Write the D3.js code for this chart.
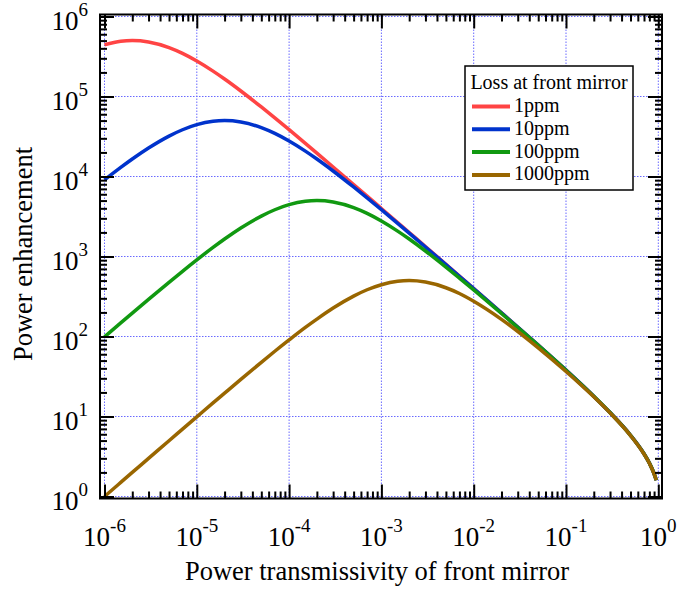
<!DOCTYPE html>
<html>
<head>
<meta charset="utf-8">
<script src="https://cdn.jsdelivr.net/npm/d3@7"></script>
<style>
  html, body { margin: 0; padding: 0; background: #fff; }
  svg { display: block; font-family: "Liberation Serif", "Times New Roman", serif; }
</style>
</head>
<body>
<svg id="chart" width="677" height="593"></svg>
<script>
// Front-mirror transmissivity samples (log-spaced)
const transmissivity = [1e-6, 1.5e-6, 2e-6, 3e-6, 5e-6, 7e-6, 1e-5, 1.5e-5, 2e-5, 3e-5, 5e-5, 7e-5,
  1e-4, 1.5e-4, 2e-4, 3e-4, 5e-4, 7e-4, 1e-3, 1.5e-3, 2e-3, 3e-3, 5e-3, 7e-3,
  1e-2, 2e-2, 5e-2, 0.1, 0.2, 0.3, 0.5, 0.7, 0.8, 0.9, 0.95];

// Power enhancement for each loss value
const loss1ppm = [444400, 489800, 500000, 480000, 408200, 345700, 277800, 207600, 165300, 117200, 73960, 54010,
  38450, 25970, 19610, 13160, 7936, 5682, 3984, 2660, 1996, 1332, 798, 569,
  398, 198, 78.0, 38.0, 17.9, 11.2, 5.83, 3.42, 2.62, 1.93, 1.6];
const loss10ppm = [9070, 12980, 16530, 22680, 32000, 38410, 44440, 48980, 50000, 48000, 40820, 34570,
  27780, 20760, 16530, 11720, 7396, 5401, 3845, 2597, 1961, 1316, 792, 566,
  396, 198, 78.0, 38.0, 17.9, 11.2, 5.83, 3.42, 2.62, 1.93, 1.6];
const loss100ppm = [99.0, 147.8, 196.1, 291.2, 475.9, 653.5, 907.0, 1298, 1653, 2268, 3200, 3841,
  4444, 4898, 5000, 4800, 4082, 3457, 2778, 2076, 1653, 1172, 738, 538,
  383, 194, 77.4, 37.8, 17.9, 11.2, 5.82, 3.42, 2.62, 1.93, 1.6];
const loss1000ppm = [1.0, 1.5, 2.0, 2.99, 4.98, 6.95, 9.90, 14.8, 19.6, 29.1, 47.6, 65.4,
  90.7, 130, 165, 227, 320, 384, 444, 490, 500, 479, 407, 345,
  276, 164, 72.1, 36.5, 17.6, 11.1, 5.78, 3.40, 2.61, 1.92, 1.6];

const seriesNames = ["1ppm", "10ppm", "100ppm", "1000ppm"];
const seriesValues = [loss1ppm, loss10ppm, loss100ppm, loss1000ppm];
const seriesColors = ["#ff4444", "#0033cc", "#119911", "#996600"];

const xExponents = [-6, -5, -4, -3, -2, -1, 0];
const yExponents = [0, 1, 2, 3, 4, 5, 6];

const legendTitle = "Loss at front mirror";
const xTitle = "Power transmissivity of front mirror";
const yTitle = "Power enhancement";

// Layout
const frame = { left: 100, right: 662, top: 14.5, bottom: 498.5 };
const svg = d3.select("#chart");

const x = d3.scaleLog().domain([1e-6, 1]).range([104.5, 658.3]);
const y = d3.scaleLog().domain([1, 1e6]).range([496.5, 16.5]);

const majorX = xExponents.map(e => Math.pow(10, e));
const majorY = yExponents.map(e => Math.pow(10, e));
const minorX = [];
for (let e = -6; e < 0; e++) for (let m = 2; m <= 9; m++) minorX.push(m * Math.pow(10, e));
const minorY = [];
for (let e = 0; e < 6; e++) for (let m = 2; m <= 9; m++) minorY.push(m * Math.pow(10, e));

// Grid
const grid = svg.append("g").attr("class", "grid")
  .attr("stroke", "#6a6aff").attr("stroke-width", 1).attr("stroke-dasharray", "1.5,1.5");
grid.selectAll("line.gx").data(majorX).join("line").attr("class", "gx")
  .attr("x1", d => x(d)).attr("x2", d => x(d))
  .attr("y1", frame.top).attr("y2", frame.bottom);
grid.selectAll("line.gy").data(majorY).join("line").attr("class", "gy")
  .attr("y1", d => y(d)).attr("y2", d => y(d))
  .attr("x1", frame.left).attr("x2", frame.right);

// Curves
const line = d3.line()
  .x((d, i) => x(transmissivity[i]))
  .y(d => y(d))
  .curve(d3.curveMonotoneX);

svg.append("g").attr("class", "curves")
  .selectAll("path").data(seriesValues).join("path")
  .attr("d", d => line(d))
  .attr("fill", "none")
  .attr("stroke", (d, i) => seriesColors[i])
  .attr("stroke-width", 3.5)
  .attr("stroke-linejoin", "round");

// Axes with inward ticks on all four sides
function styleAxis(g) {
  g.select(".domain").remove();
  g.selectAll("line").attr("stroke", "#000").attr("stroke-width", 2);
  g.selectAll("text").remove();
}
const axes = [
  [d3.axisBottom(x), `translate(0,${frame.bottom})`, majorX, minorX],
  [d3.axisTop(x), `translate(0,${frame.top})`, majorX, minorX],
  [d3.axisLeft(y), `translate(${frame.left},0)`, majorY, minorY],
  [d3.axisRight(y), `translate(${frame.right},0)`, majorY, minorY]
];
axes.forEach(([ax, tr, maj, min]) => {
  svg.append("g").attr("transform", tr)
    .call(ax.tickValues(maj).tickSize(-14).tickFormat(""))
    .call(styleAxis);
  svg.append("g").attr("transform", tr)
    .call(ax.tickValues(min).tickSize(-7).tickFormat(""))
    .call(styleAxis);
});

// Frame
svg.append("rect")
  .attr("x", frame.left).attr("y", frame.top)
  .attr("width", frame.right - frame.left).attr("height", frame.bottom - frame.top)
  .attr("fill", "none").attr("stroke", "#000").attr("stroke-width", 2);

// Tick labels as 10 with superscript exponent
function powerLabel(sel, exp) {
  sel.append("tspan").text("10");
  sel.append("tspan").attr("font-size", 19).attr("dy", -14).text(String(exp).replace("-", "-"));
}
svg.append("g").selectAll("text").data(xExponents).join("text")
  .attr("x", d => x(Math.pow(10, d)))
  .attr("y", 546)
  .attr("text-anchor", "middle")
  .attr("font-size", 27)
  .each(function (d) { powerLabel(d3.select(this), d); });

svg.append("g").selectAll("text").data(yExponents).join("text")
  .attr("x", 88)
  .attr("y", d => y(Math.pow(10, d)) + 13.5)
  .attr("text-anchor", "end")
  .attr("font-size", 27)
  .each(function (d) { powerLabel(d3.select(this), d); });

// Axis titles
svg.append("text")
  .attr("x", 377).attr("y", 579.5)
  .attr("text-anchor", "middle").attr("font-size", 26.5)
  .text(xTitle);
svg.append("text")
  .attr("transform", "translate(31.5,254) rotate(-90)")
  .attr("text-anchor", "middle").attr("font-size", 26.5)
  .text(yTitle);

// Legend
const legend = svg.append("g").attr("class", "legend");
legend.append("rect")
  .attr("x", 465).attr("y", 66).attr("width", 168).attr("height", 124)
  .attr("fill", "#fff").attr("stroke", "#000").attr("stroke-width", 1.5);
legend.append("text")
  .attr("x", 549).attr("y", 89).attr("text-anchor", "middle").attr("font-size", 20)
  .text(legendTitle);
const rows = legend.selectAll("g.row").data(seriesNames).join("g").attr("class", "row")
  .attr("transform", (d, i) => `translate(0,${106.5 + i * 22.8})`);
rows.append("line")
  .attr("x1", 472).attr("x2", 510).attr("y1", 0).attr("y2", 0)
  .attr("stroke", (d, i) => seriesColors[i]).attr("stroke-width", 4);
rows.append("text")
  .attr("x", 514).attr("y", 5.5).attr("font-size", 20)
  .text(d => d);
</script>
</body>
</html>
